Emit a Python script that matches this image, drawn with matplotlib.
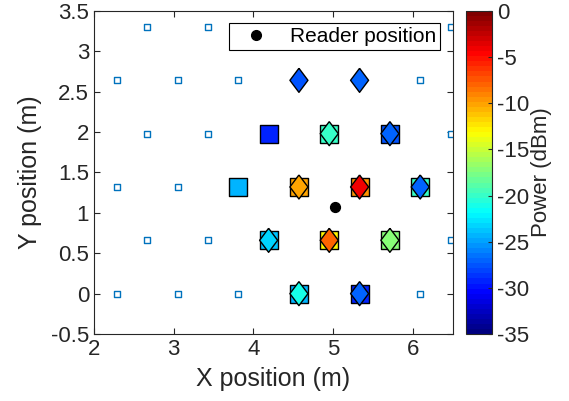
import numpy as np
import matplotlib.pyplot as plt
from matplotlib.colors import LinearSegmentedColormap
from matplotlib.ticker import FormatStrFormatter
from matplotlib.lines import Line2D

plt.rcParams['font.family'] = ['Liberation Sans', 'DejaVu Sans']

# tag grid (small squares), rows alternate between two x sets
tag_rows = [0, 0.66, 1.32, 1.98, 2.64, 3.30]
tag_x_even = [2.29, 3.05, 3.81, 4.57, 5.33, 6.09]
tag_x_odd = [2.67, 3.43, 4.19, 4.95, 5.71, 6.47]

# measured power (squares)
sq_x = [4.57, 5.33, 4.19, 4.95, 5.71, 3.81, 4.57, 5.33, 6.09, 4.19, 4.95, 5.71]
sq_y = [0, 0, 0.66, 0.66, 0.66, 1.32, 1.32, 1.32, 1.32, 1.98, 1.98, 1.98]
sq_p = [-24.5, -29.5, -24, -13, -17.5, -24.5, -10, -9.5, -20, -29, -20, -27.5]

# estimated power (diamonds)
dm_x = [4.57, 5.33, 4.19, 4.95, 5.71, 4.57, 5.33, 6.09, 4.95, 5.71, 4.57, 5.33]
dm_y = [0, 0, 0.66, 0.66, 0.66, 1.32, 1.32, 1.32, 1.98, 1.98, 2.64, 2.64]
dm_p = [-21, -27, -23.5, -8, -17.5, -10, -4, -27, -20, -27, -27.5, -27]

reader_x = [5.02]
reader_y = [1.07]

grey = '#262626'
# matlab style jet, 64 levels
jet_m = LinearSegmentedColormap('jet_m', {
    'red': [(0, 0, 0), (0.375, 0, 0), (0.625, 1, 1), (0.875, 1, 1), (1, 0.5, 0.5)],
    'green': [(0, 0, 0), (0.125, 0, 0), (0.375, 1, 1), (0.625, 1, 1), (0.875, 0, 0), (1, 0, 0)],
    'blue': [(0, 0.5, 0.5), (0.125, 1, 1), (0.375, 1, 1), (0.625, 0, 0), (1, 0, 0)],
}, N=64)

fig = plt.figure(figsize=(5.69, 4.01), dpi=100)
ax = fig.add_axes([0.165, 0.167, 0.631, 0.806])
cax = fig.add_axes([0.819, 0.167, 0.046, 0.806])

tx, ty = [], []
for i, r in enumerate(tag_rows):
    xs = tag_x_even if i % 2 == 0 else tag_x_odd
    tx += xs
    ty += [r] * len(xs)
ax.scatter(tx, ty, s=18, marker='s', facecolor='white', edgecolor='#0072BD',
           linewidth=1, zorder=2)

sc = ax.scatter(sq_x, sq_y, c=sq_p, cmap=jet_m, vmin=-35, vmax=0, s=170,
                marker='s', edgecolor='black', linewidth=1, zorder=3)
diamond = [(0, 1), (0.75, 0), (0, -1), (-0.75, 0), (0, 1)]
ax.scatter(dm_x, dm_y, c=dm_p, cmap=jet_m, vmin=-35, vmax=0, s=300,
           marker=diamond, edgecolor='black', linewidth=1, zorder=4)
ax.scatter(reader_x, reader_y, s=50, color='black', zorder=5)

ax.set_xlim(2, 6.5)
ax.set_ylim(-0.5, 3.5)
ax.set_xticks(np.arange(2, 6.1, 1))
ax.set_yticks(np.arange(-0.5, 3.51, 0.5))
ax.yaxis.set_major_formatter(FormatStrFormatter('%g'))
ax.xaxis.set_major_formatter(FormatStrFormatter('%g'))
ax.tick_params(direction='in', top=True, right=True, labelsize=16,
               colors=grey, length=4, width=0.8)
for sp in ax.spines.values():
    sp.set_color(grey)
    sp.set_linewidth(0.8)
ax.set_xlabel('X position (m)', fontsize=18, color=grey, labelpad=5)
ax.set_ylabel('Y position (m)', fontsize=18, color=grey, labelpad=6)

h = Line2D([], [], marker='o', linestyle='none', color='black', markersize=7)
leg = ax.legend([h], ['Reader position'], loc='upper right', fontsize=15,
                fancybox=False, edgecolor='black', framealpha=1,
                borderpad=0.2, handlelength=2.2, handletextpad=0.5,
                borderaxespad=0, bbox_to_anchor=(0.964, 0.962))
leg.get_frame().set_linewidth(0.8)
leg.set_zorder(10)

cb = fig.colorbar(sc, cax=cax)
cb.set_ticks(np.arange(-35, 1, 5))
cb.ax.yaxis.set_major_formatter(FormatStrFormatter('%g'))
cb.ax.tick_params(labelsize=16, colors=grey, direction='in', length=3)
cb.outline.set_edgecolor(grey)
cb.outline.set_linewidth(0.8)
cb.set_label('Power (dBm)', fontsize=16, color=grey, labelpad=1)

fig.savefig('out.png', dpi=100)
